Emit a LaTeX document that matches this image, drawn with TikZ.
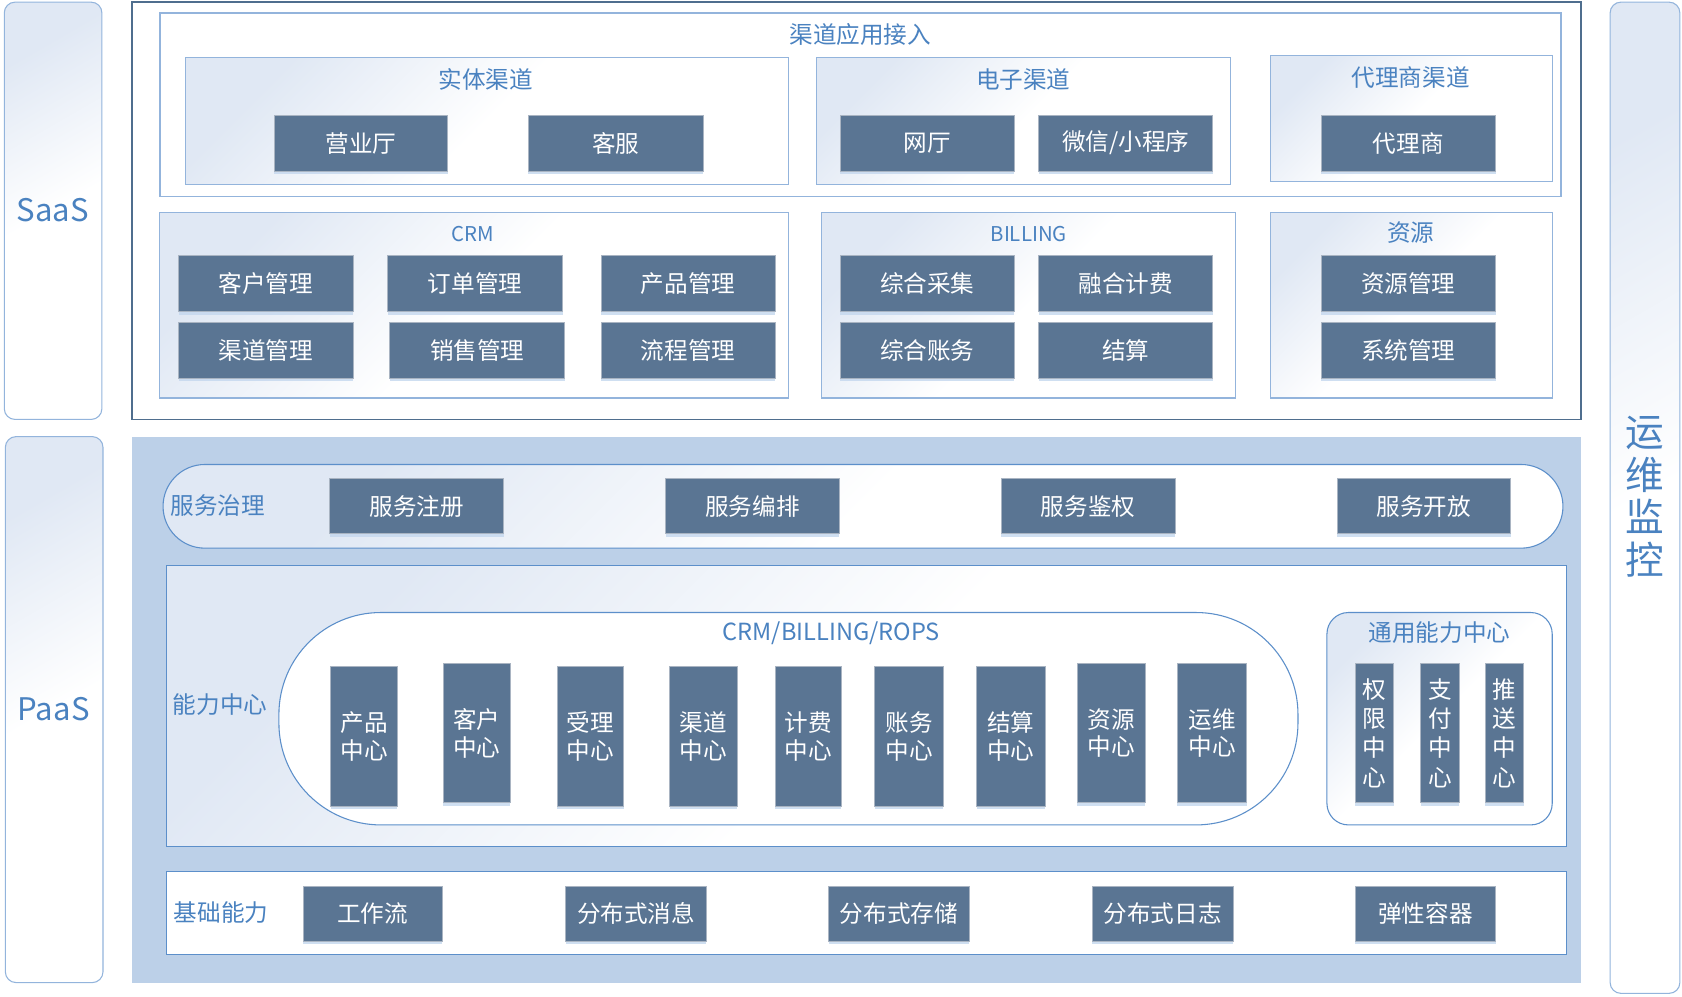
\documentclass[tikz,border=0pt]{standalone}
\usepackage{fontspec}
\setmainfont{Noto Sans CJK SC}
\usetikzlibrary{shadows}
\definecolor{btnc}{HTML}{5A7593}
\definecolor{btnb}{HTML}{A9B4C2}
\definecolor{titc}{HTML}{4A82C0}
\definecolor{bordc}{HTML}{93B4DC}
\definecolor{bord2}{HTML}{5C8FCA}
\definecolor{paasbg}{HTML}{BCD0E8}
\definecolor{gradc}{HTML}{E0E8F4}
\definecolor{framec}{HTML}{4F6E8E}
\definecolor{shc}{HTML}{C4D7EE}
\tikzset{
  btn/.style={anchor=north west, draw=btnb, line width=0.8pt, fill=btnc, text=white,
    font=\fontsize{22}{26}\selectfont, inner sep=0pt,
    drop shadow={shadow xshift=0pt, shadow yshift=-3pt, fill=shc, opacity=0.8}},
  vbtn/.style={btn, align=center, font=\fontsize{22}{26}\selectfont},
  vbtn2/.style={btn, align=center, font=\fontsize{22}{27.3}\selectfont},
  grp/.style={draw=bordc, line width=1pt, top color=gradc, bottom color=white, middle color=white, shading angle=45},
  grpb/.style={draw=bord2, line width=1pt, top color=gradc, bottom color=white, middle color=white, shading angle=45},
  ttl/.style={text=titc, font=\fontsize{22}{26}\selectfont, inner sep=0pt},
  ttlsm/.style={text=titc, font=\fontsize{19}{22}\selectfont, inner sep=0pt},
  side/.style={draw=bordc, line width=1pt, rounded corners=10pt, top color=gradc, bottom color=white, middle color=white, shading angle=30},
}
\begin{document}
\begin{tikzpicture}[x=1pt,y=-1pt]
\useasboundingbox (0,0) rectangle (1568,928.5);

% side columns
\draw[side] (4,2) rectangle (95,391);
\node[text=titc, font=\fontsize{29}{32}\selectfont] (saas) at (49,196) {SaaS};
\draw[side] (5,407) rectangle (96,916);
\node[text=titc, font=\fontsize{29}{32}\selectfont] (paas) at (50,661) {PaaS};
\draw[side] (1501,2) rectangle (1566,926);
\node[text=titc, font=\fontsize{36}{40}\selectfont, align=center] (ops) at (1533,463) {运\\维\\监\\控};

% SaaS frame
\draw[framec, line width=1.3pt, fill=white] (123,2) rectangle (1474,391);

% channel access
\draw[draw=bordc, line width=1.5pt, fill=white] (149,12) rectangle (1455,183);
\node[ttl] (qdyy) at (802,32) {渠道应用接入};

\draw[grp] (173,54) rectangle (735,172);
\node[ttl] (stqd) at (453,74) {实体渠道};
\node[btn, minimum width=162pt, minimum height=52pt] (yyt) at (255,107) {营业厅};
\node[btn, minimum width=163pt, minimum height=52pt] (kf) at (492,107) {客服};

\draw[grp] (761,54) rectangle (1147,172);
\node[ttl] (dzqd) at (954,74) {电子渠道};
\node[btn, minimum width=162pt, minimum height=52pt] (wt) at (783,107) {网厅};
\node[btn, minimum width=162pt, minimum height=52pt] (wx) at (968,107) {微信/小程序};

\draw[grp] (1184,52) rectangle (1447,169);
\node[ttl] (dlsqd) at (1315,72) {代理商渠道};
\node[btn, minimum width=163pt, minimum height=52pt] (dls) at (1231,107) {代理商};

% CRM
\draw[grp] (149,198) rectangle (735,371);
\node[ttlsm] (crm) at (441,218) {CRM};
\node[btn, minimum width=163pt, minimum height=52pt] (khgl) at (166,238) {客户管理};
\node[btn, minimum width=163pt, minimum height=52pt] (ddgl) at (361,238) {订单管理};
\node[btn, minimum width=162pt, minimum height=52pt] (cpgl) at (560,238) {产品管理};
\node[btn, minimum width=163pt, minimum height=52pt] (qdgl) at (166,300) {渠道管理};
\node[btn, minimum width=163pt, minimum height=52pt] (xsgl) at (363,300) {销售管理};
\node[btn, minimum width=162pt, minimum height=52pt] (lcgl) at (560,300) {流程管理};

% BILLING
\draw[grp] (766,198) rectangle (1152,371);
\node[ttlsm] (billing) at (959,218) {BILLING};
\node[btn, minimum width=162pt, minimum height=52pt] (zhcj) at (783,238) {综合采集};
\node[btn, minimum width=162pt, minimum height=52pt] (rhjf) at (968,238) {融合计费};
\node[btn, minimum width=162pt, minimum height=52pt] (zhzw) at (783,300) {综合账务};
\node[btn, minimum width=162pt, minimum height=52pt] (js) at (968,300) {结算};

% resources
\draw[grp] (1184,198) rectangle (1447,371);
\node[ttl] (zy) at (1315,217) {资源};
\node[btn, minimum width=163pt, minimum height=52pt] (zygl) at (1231,238) {资源管理};
\node[btn, minimum width=163pt, minimum height=52pt] (xtgl) at (1231,300) {系统管理};

% PaaS
\fill[paasbg] (123,407) rectangle (1474,916);

% service governance
\draw[grpb, rounded corners=39pt] (152,433) rectangle (1457,511);
\node[ttl, anchor=west] (fwzl) at (159,471) {服务治理};
\node[btn, minimum width=162pt, minimum height=51pt] (fwzc) at (307,446) {服务注册};
\node[btn, minimum width=162pt, minimum height=51pt] (fwbp) at (620,446) {服务编排};
\node[btn, minimum width=162pt, minimum height=51pt] (fwjq) at (933,446) {服务鉴权};
\node[btn, minimum width=162pt, minimum height=51pt] (fwkf) at (1246,446) {服务开放};

% capability center
\draw[grpb] (155,527) rectangle (1460,789);
\node[ttl, anchor=west] (nlzx) at (161,657) {能力中心};
\draw[draw=bord2, line width=1pt, fill=white, rounded corners=95pt] (260,571) rectangle (1210,769);
\node[ttl] (cbr) at (775,590) {CRM/BILLING/ROPS};
\node[vbtn, minimum width=62pt, minimum height=130pt] (cpzx) at (308,621) {产品\\中心};
\node[vbtn, minimum width=62pt, minimum height=130pt] (khzx) at (413,618) {客户\\中心};
\node[vbtn, minimum width=62pt, minimum height=130pt] (slzx) at (519,621) {受理\\中心};
\node[vbtn, minimum width=63pt, minimum height=130pt] (qdzx) at (624,621) {渠道\\中心};
\node[vbtn, minimum width=62pt, minimum height=130pt] (jfzx) at (722,621) {计费\\中心};
\node[vbtn, minimum width=64pt, minimum height=130pt] (zwzx) at (815,621) {账务\\中心};
\node[vbtn, minimum width=64pt, minimum height=130pt] (jszx) at (910,621) {结算\\中心};
\node[vbtn, minimum width=63pt, minimum height=130pt] (zyzx) at (1004,618) {资源\\中心};
\node[vbtn, minimum width=65pt, minimum height=130pt] (ywzx) at (1097,618) {运维\\中心};

\draw[grpb, rounded corners=20pt] (1237,571) rectangle (1447,769);
\node[ttl] (tynl) at (1342,590) {通用能力中心};
\node[vbtn2, minimum width=36pt, minimum height=130pt] (qxzx) at (1263,618) {权\\限\\中\\心};
\node[vbtn2, minimum width=36pt, minimum height=130pt] (zfzx) at (1324,618) {支\\付\\中\\心};
\node[vbtn2, minimum width=36pt, minimum height=130pt] (tszx) at (1384,618) {推\\送\\中\\心};

% base capabilities
\draw[draw=bord2, line width=1pt, fill=white] (155,812) rectangle (1460,890);
\node[ttl, anchor=west] (jcnl) at (162,851) {基础能力};
\node[btn, minimum width=130pt, minimum height=51pt] (gzl) at (282,826) {工作流};
\node[btn, minimum width=131pt, minimum height=51pt] (fbxx) at (527,826) {分布式消息};
\node[btn, minimum width=131pt, minimum height=51pt] (fbcc) at (772,826) {分布式存储};
\node[btn, minimum width=131pt, minimum height=51pt] (fbrz) at (1018,826) {分布式日志};
\node[btn, minimum width=131pt, minimum height=51pt] (txrq) at (1263,826) {弹性容器};
\end{tikzpicture}
\end{document}
